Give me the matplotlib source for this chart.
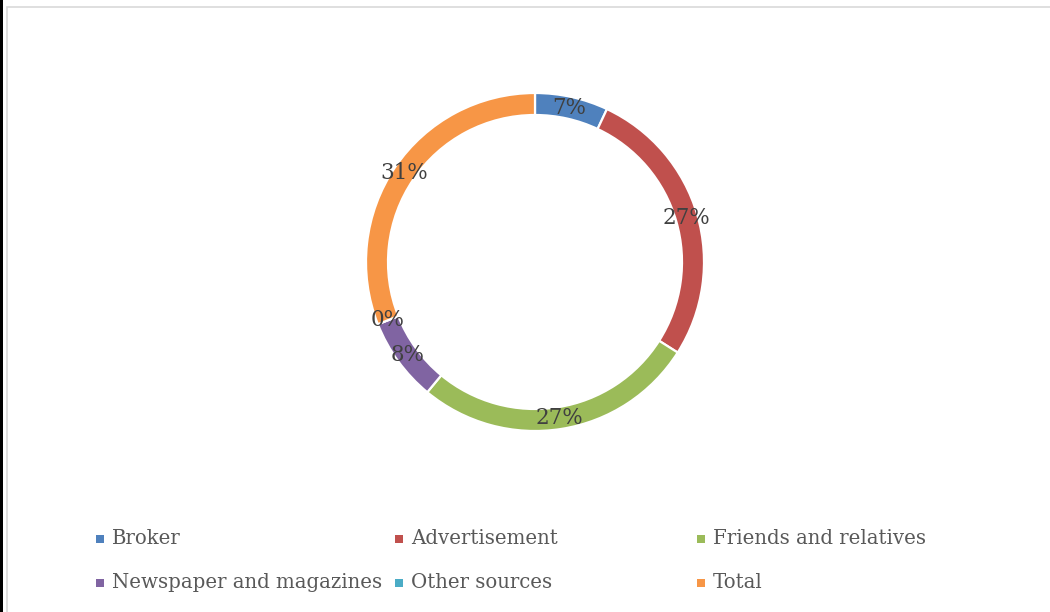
import matplotlib.pyplot as plt
from matplotlib.patches import Rectangle

categories = ["Broker", "Advertisement", "Friends and relatives",
              "Newspaper and magazines", "Other sources", "Total"]
shares = [7, 27, 27, 8, 0, 31]
colors = ["#4F81BD", "#C0504D", "#9BBB59", "#8064A2", "#4BACC6", "#F79646"]

plt.rcParams["font.family"] = ["DejaVu Serif"]

W, H = 1050, 612
fig = plt.figure(figsize=(W / 100, H / 100), dpi=100)

# chart frame: dark strip on the left, light grey box
fig.patches.append(Rectangle((0, 0), 3 / W, 1, transform=fig.transFigure,
                             facecolor="#000000", edgecolor="none"))
fig.patches.append(Rectangle((6.5 / W, -0.1), 1.1, (H - 6.5) / H + 0.1,
                             transform=fig.transFigure, facecolor="none",
                             edgecolor="#D9D9D9", linewidth=1.2))

# donut centred at (535, 262) px, outer radius 169 px
cx, cy, r = 535, 262, 169
ax = fig.add_axes([(cx - r) / W, (H - cy - r) / H, 2 * r / W, 2 * r / H])
wedges, texts, autotexts = ax.pie(
    shares, colors=colors, startangle=90, counterclock=False,
    radius=1.0, autopct="%1.0f%%", pctdistance=0.935,
    wedgeprops=dict(width=22 / 169, edgecolor="white", linewidth=1.6),
    textprops=dict(fontsize=15.5, color="#404040"))
ax.set_xlim(-1, 1)
ax.set_ylim(-1, 1)
ax.set_aspect("equal")
ax.axis("off")

# legend laid out row by row in three equal columns
col_x = [96, 395, 697]
row_y = [539, 583]
for i, (name, c) in enumerate(zip(categories, colors)):
    x = col_x[i % 3]
    y = row_y[i // 3]
    fig.patches.append(Rectangle((x / W, (H - y - 4) / H), 8 / W, 8 / H,
                                 transform=fig.transFigure, facecolor=c,
                                 edgecolor="none"))
    fig.text((x + 16) / W, (H - y) / H, name, fontsize=14.2, color="#595959",
             ha="left", va="center")

fig.savefig("out.png", dpi=100)
